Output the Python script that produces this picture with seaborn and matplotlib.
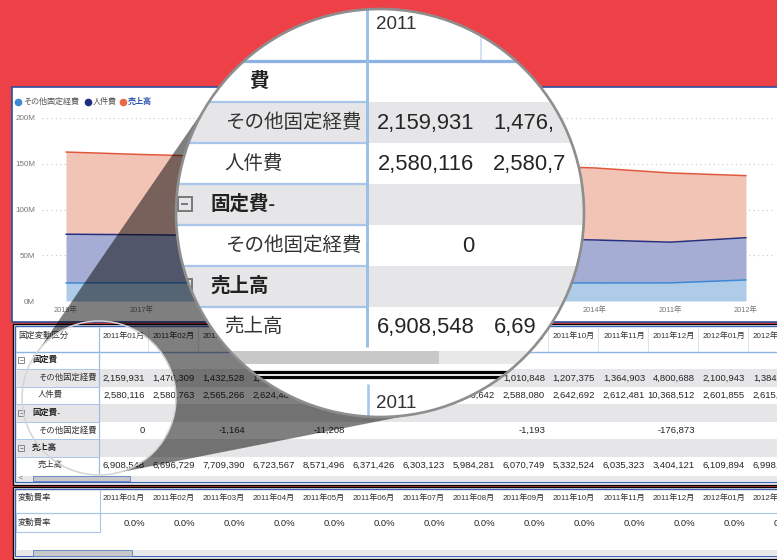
import numpy as np
import pandas as pd
import seaborn as sns
import matplotlib
matplotlib.use('Agg')
import matplotlib.pyplot as plt
from matplotlib.patches import Rectangle, Circle
from matplotlib import font_manager as fm
from matplotlib.font_manager import FontProperties

# ---------------- data ----------------
years = ['2019年', '2017年', '2018年', '2016年', '2020年', '2015年', '2013年', '2014年', '2011年', '2012年']
series_names = ['その他固定経費', '人件費', '売上高']
other_fixed = [19.7, 19.8, 20.0, 20.1, 19.9, 20.0, 19.9, 19.7, 19.8, 23.0]          # M
personnel = [73.0, 72.4, 71.5, 70.6, 69.8, 69.0, 68.0, 66.7, 64.3, 69.2]            # M
sales = [162.8, 160.1, 158.0, 155.5, 153.0, 150.5, 148.0, 145.4, 139.9, 137.0]      # M
y_ticks = [0, 50, 100, 150, 200]

months = ['2011年01月', '2011年02月', '2011年03月', '2011年04月', '2011年05月', '2011年06月',
          '2011年07月', '2011年08月', '2011年09月', '2011年10月', '2011年11月', '2011年12月',
          '2012年01月', '2012年02月']
other_fixed_m = [2159931, 1476309, 1432528, 1413207, None, None, None, None,
                 1010848, 1207375, 1364903, 4800688, 2100943, 1384215]
personnel_m = [2580116, 2580763, 2565266, 2624484, None, None, None, 2580642,
               2588080, 2642692, 2612481, 10368512, 2601855, 2615390]
fixed_adj_m = [0, None, -1164, None, -11208, None, None, None,
               -1193, None, None, -176873, None, None]
sales_m = [6908548, 6696729, 7709390, 6723567, 8571496, 6371426, 6303123, 5984281,
           6070749, 5332524, 6035323, 3404121, 6109894, 6998412]
var_rate = [0.0, 0.0, 0.0, 0.0, 0.0, 0.0, 0.0, 0.0, 0.0, 0.0, 0.0, 0.0, 0.0, 0.0]

table_title = '固定変動区分'
table2_title = '変動費率'
rows = [('group', '固定費', None),
        ('child', 'その他固定経費', other_fixed_m),
        ('child', '人件費', personnel_m),
        ('group', '固定費-', None),
        ('child', 'その他固定経費', fixed_adj_m),
        ('group', '売上高', None),
        ('child', '売上高', sales_m)]

# ---------------- style ----------------
sns.set_style('white')


def has_font(name):
    try:
        fm.findfont(fm.FontProperties(family=name), fallback_to_default=False)
        return True
    except Exception:
        return False


NARROW = 'Liberation Sans Narrow' if has_font('Liberation Sans Narrow') else 'Liberation Sans'
FAM = [NARROW, 'Noto Sans CJK JP', 'DejaVu Sans']
plt.rcParams['font.family'] = FAM

RED = '#EE4147'
fill_colors = ['#AECBE8', '#A6ADD4', '#F2C4B5']
line_colors = ['#3D88D6', '#23307F', '#E0573A']
dot_colors = ['#3D88D6', '#1E2C82', '#E86A45']

# font sizes (unmagnified table)
FS_VAL = 6.8
FS_HEAD = 5.8
FS_JP = 6.0

# magnifier geometry (pixels)
LENS_C = (380.0, 213.0)
LENS_R = 204.0
SRC_C = (99.0, 398.0)
SRC_R = 77.0
MAG = 2.335
MAG_BX, MAG_BY = 135.8, -759.3

W, H = 777, 560
fig = plt.figure(figsize=(W / 100, H / 100), dpi=100, facecolor=RED)
renderer = fig.canvas.get_renderer()

ax_bg = fig.add_axes([0, 0, 1, 1], zorder=0)
ax_bg.set_xlim(0, W)
ax_bg.set_ylim(H, 0)
ax_bg.axis('off')
ax_bg.patch.set_alpha(0)

# chart panel
ax_bg.add_patch(Rectangle((12, 87), 800, 235, facecolor='white', edgecolor='#2E4F9E', lw=1.2))
# legend
legend_x = [18, 88, 123]
for i, name in enumerate(series_names):
    ax_bg.scatter([legend_x[i]], [101.5], s=20, color=dot_colors[i], zorder=3)
    if i == 2:
        ax_bg.text(legend_x[i] + 5, 101.5, name, fontsize=5.8, color='#2C52B0',
                   fontweight='bold', va='center', ha='left')
    else:
        ax_bg.text(legend_x[i] + 5, 101.5, name, fontsize=5.8, color='#555555',
                   va='center', ha='left')


def fmt_num(v):
    if v is None:
        return ''
    return f'{v:,}'


def char_layout(X, Y, s, fs, ha, weight):
    """character cut positions and inside-lens flags for a text."""
    fp = FontProperties(family=FAM, size=fs, weight=weight)

    def wpx(t):
        if not t:
            return 0.0
        return renderer.get_text_width_height_descent(t, fp, ismath=False)[0]

    w = wpx(s)
    x_left = X - w if ha == 'right' else X
    cuts = [x_left + wpx(s[:i]) for i in range(len(s) + 1)]
    hh = 0.40 * fs * 100 / 72
    cx, cy = LENS_C
    flags = []
    for i in range(len(s)):
        ok = all(np.hypot(px - cx, py - cy) <= LENS_R - 0.5
                 for px in (cuts[i], cuts[i + 1]) for py in (Y - hh, Y + hh))
        flags.append(ok)
    return cuts, flags


def draw_tables(ax, a=1.0, bx=0.0, by=0.0, z=1.0, clip=None, lens=False):
    arts = []

    def P(x, y):
        return a * x + bx, a * y + by

    def rect(x0, y0, x1, y1, zz=0.0, **kw):
        X0, Y0 = P(x0, y0)
        X1, Y1 = P(x1, y1)
        if 'lw' in kw:
            kw['lw'] = kw['lw'] * a
        r = Rectangle((X0, Y0), X1 - X0, Y1 - Y0, zorder=z + zz, **kw)
        ax.add_patch(r)
        arts.append(r)

    def line(x0, y0, x1, y1, zz=0.2, lw=1.0, **kw):
        X0, Y0 = P(x0, y0)
        X1, Y1 = P(x1, y1)
        l, = ax.plot([X0, X1], [Y0, Y1], lw=lw * a, zorder=z + zz, solid_capstyle='butt', **kw)
        arts.append(l)

    def text(x, y, s, size, zz=0.4, ha='left', fontweight='normal', color='#333333'):
        X, Y = P(x, y)
        fs = size * a
        cuts, flags = char_layout(X, Y, s, fs, ha, fontweight)
        if not lens:
            if all(flags):
                return  # completely hidden below the magnifier
            ax.text(X, Y, s, fontsize=fs, zorder=z + zz, ha=ha, va='center',
                    fontweight=fontweight, color=color)
            return
        idx = [i for i, ok in enumerate(flags) if ok]
        if not idx:
            return
        i0, i1 = idx[0], idx[-1] + 1
        ax.text(cuts[i0], Y, s[i0:i1], fontsize=fs, zorder=z + zz, ha='left', va='center',
                fontweight=fontweight, color=color)

    thumb_edge = 'none' if lens else '#5B7FC7'

    # ---- table 1 panel ----
    rect(12.5, 323.5, 820, 484.5, zz=0.0, facecolor='white', edgecolor='black', lw=1.0)
    if not lens:
        rect(15, 326, 820, 481.5, zz=0.05, facecolor='none', edgecolor='#3F62B0', lw=1.0)
    text(18, 335.5, table_title, FS_JP)
    for k, m in enumerate(months):
        text(145 + 50 * k, 335.5, m, FS_HEAD, ha='right')
    for k in range(len(months)):
        line(148 + 50 * k, 326.5, 148 + 50 * k, 351.5, lw=0.5, color='#C9DBF0')
    top = 351.5
    rh = 17.5
    for i, (kind, label, vals) in enumerate(rows):
        y0 = top + rh * i
        yc = y0 + rh / 2
        if i % 2 == 1:
            rect(15.5, y0, 820, y0 + rh, zz=0.1, facecolor='#E6E6E8', edgecolor='none')
        if i > 0:
            line(15.5, y0, 99, y0, lw=0.7, color='#A9C6EA')
        if kind == 'group':
            rect(18, yc - 3, 24, yc + 3, zz=0.3, facecolor='none', edgecolor='#777777', lw=0.6)
            line(19.5, yc, 22.5, yc, zz=0.3, lw=0.6, color='#777777')
            text(32, yc, label, FS_JP, fontweight='bold', color='#222222')
        else:
            text(38, yc, label, FS_JP)
            for k, v in enumerate(vals):
                if v is not None:
                    text(145 + 50 * k, yc + 0.3, fmt_num(v), FS_VAL, ha='right', color='#252525')
    line(15.5, 351.5, 820, 351.5, lw=1.0, color='#8DB3E2')
    line(99, 326.5, 99, top + rh * len(rows), lw=0.9, color='#9DBFE6')
    # scrollbar
    rect(15.5, 475.5, 820, 481, zz=0.1, facecolor='#E8E8E8', edgecolor='none')
    rect(33, 475.5, 130, 481, zz=0.2, facecolor='#C8C8C8', edgecolor=thumb_edge, lw=0.6)
    text(18.5, 478, '<', 5, color='#666666')

    # ---- table 2 panel ----
    rect(12.5, 486.5, 820, 558.5, zz=0.0, facecolor='white', edgecolor='black', lw=1.0)
    if not lens:
        rect(15, 489, 820, 556, zz=0.05, facecolor='none', edgecolor='#3F62B0', lw=1.0)
    text(18, 498, table2_title, FS_JP)
    for k, m in enumerate(months):
        text(145 + 50 * k, 498, m, FS_HEAD, ha='right')
        text(145 + 50 * k, 524, f'{var_rate[k]:.1f}%', FS_VAL, ha='right', color='#252525')
    line(15.5, 513, 820, 513, lw=0.8, color='#A9C6EA')
    line(99.5, 489.5, 99.5, 513, lw=0.8, color='#A9C6EA')
    rect(15.5, 513, 100, 532, zz=0.2, facecolor='none', edgecolor='#A9C6EA', lw=0.8)
    text(18, 523, table2_title, FS_JP)
    rect(15.5, 549.5, 820, 555.5, zz=0.1, facecolor='#E8E8E8', edgecolor='none')
    rect(33, 549.5, 132, 555.5, zz=0.2, facecolor='#C8C8C8', edgecolor=thumb_edge, lw=0.6)

    if clip is not None:
        for art in arts:
            art.set_clip_on(True)
            art.set_clip_path(clip)
    return arts


draw_tables(ax_bg, z=1.0)

# ---------------- area chart (seaborn) ----------------
n = len(years)
px0, px9 = 66.0, 746.0
step = (px9 - px0) / (n - 1)
ax_l, ax_r, ax_b, ax_t = 42.0, 776.0, 301.0, 110.0
axc = fig.add_axes([ax_l / W, 1 - ax_b / H, (ax_r - ax_l) / W, (ax_b - ax_t) / H], zorder=1)
axc.patch.set_alpha(0)
pos = np.arange(n)
df = pd.DataFrame({
    'pos': np.concatenate([pos, pos, pos]),
    'value': other_fixed + personnel + sales,
    'series': [series_names[0]] * n + [series_names[1]] * n + [series_names[2]] * n,
})
axc.fill_between(pos, 0, other_fixed, color=fill_colors[0], lw=0, zorder=1)
axc.fill_between(pos, other_fixed, personnel, color=fill_colors[1], lw=0, zorder=1)
axc.fill_between(pos, personnel, sales, color=fill_colors[2], lw=0, zorder=1)
sns.lineplot(data=df, x='pos', y='value', hue='series', hue_order=series_names,
             palette=dict(zip(series_names, line_colors)), ax=axc, legend=False,
             linewidth=1.1, sort=False, estimator=None, zorder=3)
axc.set_xlim((ax_l - px0) / step, (ax_r - px0) / step)
axc.set_ylim(0, (ax_b - ax_t) / ((ax_b - 118.0) / 200.0))
axc.set_yticks(y_ticks)
axc.set_yticklabels([f'{v}M' for v in y_ticks])
axc.set_xticks(pos)
axc.set_xticklabels(years)
axc.set_xlabel('')
axc.set_ylabel('')
for s in axc.spines.values():
    s.set_visible(False)
axc.set_axisbelow(True)
axc.grid(axis='y', linestyle=(0, (1, 3)), color='#C8C8C8', lw=0.8)
axc.grid(axis='x', visible=False)
axc.tick_params(axis='y', length=0, pad=5, labelsize=5.8, labelcolor='#777777')
axc.tick_params(axis='x', length=0, pad=3.5, labelsize=5.3, labelcolor='#777777')
# year labels that sit completely under the magnifier are not visible
for i, lab in enumerate(axc.get_xticklabels()):
    xp = px0 + step * i
    if all(np.hypot(xx - LENS_C[0], yy - LENS_C[1]) < LENS_R
           for xx in (xp - 12, xp + 12) for yy in (306, 314)):
        lab.set_visible(False)

# ---------------- magnifier overlay ----------------
ax_top = fig.add_axes([0, 0, 1, 1], zorder=2)
ax_top.set_xlim(0, W)
ax_top.set_ylim(H, 0)
ax_top.axis('off')
ax_top.patch.set_alpha(0)

c1 = np.array(LENS_C); R1 = LENS_R
c2 = np.array(SRC_C); R2 = SRC_R
d = c2 - c1
D = np.hypot(d[0], d[1])
phi = np.arctan2(d[1], d[0])
th = np.arccos((R1 - R2) / D)
a1, a2 = phi + th, phi - th
arc_small = np.linspace(a1, a2 + 2 * np.pi, 80)
arc_big = np.linspace(a2, a1, 80)
pts = [c1 + R1 * np.array([np.cos(a1), np.sin(a1)])]
pts += [c2 + R2 * np.array([np.cos(t), np.sin(t)]) for t in arc_small]
pts += [c1 + R1 * np.array([np.cos(t), np.sin(t)]) for t in arc_big]
pts = np.array(pts)
ax_top.fill(pts[:, 0], pts[:, 1], color='black', alpha=0.5, lw=0, zorder=1)
ax_top.add_patch(Circle(c2, R2, facecolor='none', edgecolor='#D4D4D4', lw=1.1, zorder=2))

ax_top.add_patch(Circle(c1, R1, facecolor='white', edgecolor='none', zorder=3))
clip_circ = Circle(c1, R1, transform=ax_top.transData)
draw_tables(ax_top, a=MAG, bx=MAG_BX, by=MAG_BY, z=4.0, clip=clip_circ, lens=True)
ax_top.add_patch(Circle(c1, R1, facecolor='none', edgecolor='#8E8E8E', lw=1.9, zorder=10))

fig.savefig('out.png', dpi=100, facecolor=RED)
